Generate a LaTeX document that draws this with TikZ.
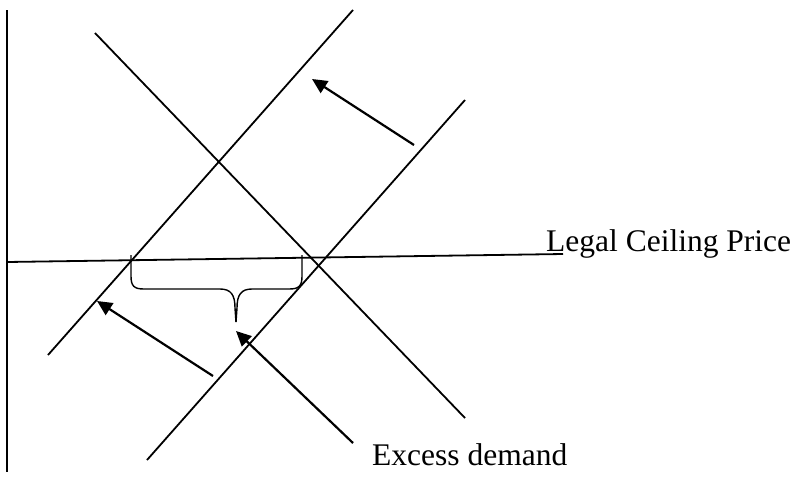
\documentclass[tikz,border=0pt]{standalone}
\usepackage{fontspec}
\setmainfont{Liberation Serif}
\usetikzlibrary{arrows.meta}
\begin{document}
\begin{tikzpicture}[x=1pt,y=-1pt,
  curve/.style={line width=1.8pt},
  shiftarrow/.style={line width=2.2pt,-{Triangle[length=15pt,width=14pt]}},
  lbl/.style={anchor=base west,inner sep=0pt,font=\fontsize{31.5}{37}\selectfont}]
\useasboundingbox (0,0) rectangle (794,477);
% axis
\coordinate (ytop) at (7,10);
\coordinate (ybot) at (7,472);
\draw[curve] (ytop) -- (ybot);
% ceiling line
\coordinate (cl) at (7,262);
\coordinate (cr) at (563,254);
\draw[curve] (cl) -- (cr);
\node[lbl] (ceil) at (546,251) {Legal Ceiling Price};
% supply 1
\coordinate (s1a) at (48,355);
\coordinate (s1b) at (353,10);
\draw[curve] (s1a) -- (s1b);
% supply 2
\coordinate (s2a) at (147,460);
\coordinate (s2b) at (465,100);
\draw[curve] (s2a) -- (s2b);
% demand
\coordinate (da) at (95,33);
\coordinate (db) at (465,418);
\draw[curve] (da) -- (db);
% arrows
\coordinate (a1t) at (414,145);
\coordinate (a1h) at (312,79);
\draw[shiftarrow] (a1t) -- (a1h);
\coordinate (a2t) at (213,376);
\coordinate (a2h) at (97,301);
\draw[shiftarrow] (a2t) -- (a2h);
\coordinate (a3t) at (353,443);
\coordinate (a3h) at (236,331);
\draw[shiftarrow] (a3t) -- (a3h);
% brace
\draw[line width=1.4pt] (131,255) -- (131,276) .. controls (131,286) and (134,289) .. (144,289)
  -- (220,289) .. controls (231,289) and (235,295) .. (235,308) -- (236,322);
\draw[line width=1.4pt] (302,255) -- (302,276) .. controls (302,286) and (299,289) .. (289,289)
  -- (252,289) .. controls (241,289) and (237,295) .. (237,308) -- (236,322);
\node[lbl] (excess) at (372,465) {Excess demand};
\end{tikzpicture}
\end{document}
